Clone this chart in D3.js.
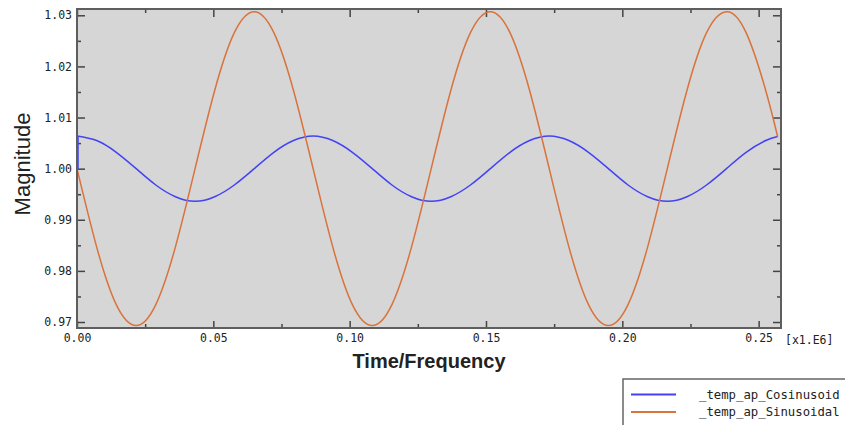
<!DOCTYPE html>
<html>
<head>
<meta charset="utf-8">
<script src="https://cdn.jsdelivr.net/npm/d3@7"></script>
<style>
  body { margin: 0; background: #fff; }
  svg { display: block; }
</style>
</head>
<body>
<script>
// time samples (x1.E6)
var timeVals = [0, 0.0072, 0.0144, 0.0217, 0.0289, 0.0361, 0.0433, 0.0505, 0.0577, 0.0650, 0.0722, 0.0794,
  0.0866, 0.0938, 0.1010, 0.1083, 0.1155, 0.1227, 0.1299, 0.1371, 0.1443, 0.1516, 0.1588, 0.1660,
  0.1732, 0.1804, 0.1876, 0.1949, 0.2021, 0.2093, 0.2165, 0.2237, 0.2309, 0.2382, 0.2454, 0.2526, 0.2570];

var cosVals = [1.0064, 1.0055, 1.0032, 1.0000, 0.9968, 0.9945, 0.9936, 0.9945, 0.9968, 1.0000, 1.0032, 1.0055,
  1.0064, 1.0055, 1.0032, 1.0000, 0.9968, 0.9945, 0.9936, 0.9945, 0.9968, 1.0000, 1.0032, 1.0055,
  1.0064, 1.0055, 1.0032, 1.0000, 0.9968, 0.9945, 0.9936, 0.9945, 0.9968, 1.0000, 1.0032, 1.0055, 1.0063];

var sinVals = [1.0000, 0.9847, 0.9734, 0.9693, 0.9734, 0.9847, 1.0000, 1.0153, 1.0266, 1.0307, 1.0266, 1.0153,
  1.0000, 0.9847, 0.9734, 0.9693, 0.9734, 0.9847, 1.0000, 1.0153, 1.0266, 1.0307, 1.0266, 1.0153,
  1.0000, 0.9847, 0.9734, 0.9693, 0.9734, 0.9847, 1.0000, 1.0153, 1.0266, 1.0307, 1.0266, 1.0153, 1.0062];

// the cosinusoid starts with a jump up from 1.00 at t = 0
var cosStart = [[0, 1.0000], [0, 1.0064]];

var yTicks = [0.97, 0.98, 0.99, 1.00, 1.01, 1.02, 1.03];
var yMinor = [0.975, 0.985, 0.995, 1.005, 1.015, 1.025];
var xTicks = [0.00, 0.05, 0.10, 0.15, 0.20, 0.25];
var xMinor = [0.025, 0.075, 0.125, 0.175, 0.225];

var seriesNames = ["_temp_ap_Cosinusoid", "_temp_ap_Sinusoidal"];
var seriesColors = ["#4343f5", "#d8733c"];

var svgWidth = 845, svgHeight = 425;
var plotLeft = 77, plotRight = 781, plotTop = 9, plotBottom = 328;
var monoFont = "'DejaVu Sans Mono', monospace";

var svg = d3.select('body').append('svg').attr('width', svgWidth).attr('height', svgHeight);

var x = d3.scaleLinear().domain([0, 0.2582]).range([plotLeft, plotRight]);
var y = d3.scaleLinear().domain([0.96883, 1.03123]).range([plotBottom, plotTop]);

// plot background
svg.append('rect')
   .attr('x', plotLeft).attr('y', plotTop)
   .attr('width', plotRight - plotLeft).attr('height', plotBottom - plotTop)
   .attr('fill', '#d6d6d6');

svg.append('clipPath').attr('id', 'clip')
   .append('rect')
   .attr('x', plotLeft).attr('y', plotTop)
   .attr('width', plotRight - plotLeft).attr('height', plotBottom - plotTop);

// axes, ticks pointing inwards
function styleAxis(g) {
  g.select('.domain').remove();
  g.selectAll('line').attr('stroke', '#444').attr('stroke-width', 1.5);
  g.selectAll('text').attr('font-family', monoFont).attr('font-size', 11.5).attr('fill', '#222');
}

svg.append('g').attr('transform', 'translate(' + plotLeft + ',0)')
   .call(d3.axisLeft(y).tickValues(yTicks).tickFormat(d3.format('.2f')).tickSize(-8).tickPadding(5))
   .call(styleAxis);
svg.append('g').attr('transform', 'translate(' + plotLeft + ',0)')
   .call(d3.axisLeft(y).tickValues(yMinor).tickFormat('').tickSize(-4))
   .call(styleAxis);
svg.append('g').attr('transform', 'translate(' + plotRight + ',0)')
   .call(d3.axisRight(y).tickValues(yTicks).tickFormat('').tickSize(-8))
   .call(styleAxis);
svg.append('g').attr('transform', 'translate(' + plotRight + ',0)')
   .call(d3.axisRight(y).tickValues(yMinor).tickFormat('').tickSize(-4))
   .call(styleAxis);

svg.append('g').attr('transform', 'translate(0,' + plotBottom + ')')
   .call(d3.axisBottom(x).tickValues(xTicks).tickFormat(d3.format('.2f')).tickSize(-7).tickPadding(6))
   .call(styleAxis);
svg.append('g').attr('transform', 'translate(0,' + plotBottom + ')')
   .call(d3.axisBottom(x).tickValues(xMinor).tickFormat('').tickSize(-4))
   .call(styleAxis);
svg.append('g').attr('transform', 'translate(0,' + plotTop + ')')
   .call(d3.axisTop(x).tickValues(xTicks).tickFormat('').tickSize(-8))
   .call(styleAxis);
svg.append('g').attr('transform', 'translate(0,' + plotTop + ')')
   .call(d3.axisTop(x).tickValues(xMinor).tickFormat('').tickSize(-4))
   .call(styleAxis);

// curves
var line = d3.line()
  .x(function (d) { return x(d[0]); })
  .y(function (d) { return y(d[1]); })
  .curve(d3.curveNatural);

var cosData = timeVals.map(function (t, i) { return [t, cosVals[i]]; });
var sinData = timeVals.map(function (t, i) { return [t, sinVals[i]]; });

var plot = svg.append('g').attr('clip-path', 'url(#clip)');
plot.append('path').datum(cosStart)
    .attr('d', d3.line().x(function (d) { return x(d[0]) + 1; }).y(function (d) { return y(d[1]); }))
    .attr('fill', 'none').attr('stroke', seriesColors[0]).attr('stroke-width', 1.5);
plot.append('path').datum(cosData)
    .attr('d', line)
    .attr('fill', 'none').attr('stroke', seriesColors[0]).attr('stroke-width', 1.5);
plot.append('path').datum(sinData)
    .attr('d', line)
    .attr('fill', 'none').attr('stroke', seriesColors[1]).attr('stroke-width', 1.5);

// frame
svg.append('rect')
   .attr('x', plotLeft).attr('y', plotTop)
   .attr('width', plotRight - plotLeft).attr('height', plotBottom - plotTop)
   .attr('fill', 'none').attr('stroke', '#5e5e5e').attr('stroke-width', 2);

// unit label
svg.append('text')
   .attr('x', 785).attr('y', plotBottom + 16)
   .attr('font-family', monoFont).attr('font-size', 11.5).attr('fill', '#222')
   .text('[x1.E6]');

// axis titles
svg.append('text')
   .attr('x', (plotLeft + plotRight) / 2).attr('y', 368)
   .attr('text-anchor', 'middle')
   .attr('font-family', "'Liberation Sans', Arial, sans-serif")
   .attr('font-size', 20).attr('font-weight', 'bold').attr('fill', '#222')
   .text('Time/Frequency');

svg.append('text')
   .attr('transform', 'translate(30,164) rotate(-90)')
   .attr('text-anchor', 'middle')
   .attr('font-family', "'Liberation Sans', Arial, sans-serif")
   .attr('font-size', 22).attr('fill', '#222')
   .text('Magnitude');

// legend
var legend = svg.append('g');
legend.append('rect')
   .attr('x', 623).attr('y', 379)
   .attr('width', 240).attr('height', 60)
   .attr('fill', '#fff').attr('stroke', '#666').attr('stroke-width', 1.5);

var items = legend.selectAll('g.item')
   .data(seriesNames)
   .enter()
   .append('g')
   .attr('class', 'item')
   .attr('transform', function (d, i) { return 'translate(0,' + (394.5 + i * 17.5) + ')'; });

items.append('line')
   .attr('x1', 631).attr('x2', 676)
   .attr('stroke', function (d, i) { return seriesColors[i]; })
   .attr('stroke-width', 2);

items.append('text')
   .attr('x', 699).attr('y', 4)
   .attr('font-family', monoFont).attr('font-size', 12.3).attr('fill', '#222')
   .text(function (d) { return d; });
</script>
</body>
</html>
